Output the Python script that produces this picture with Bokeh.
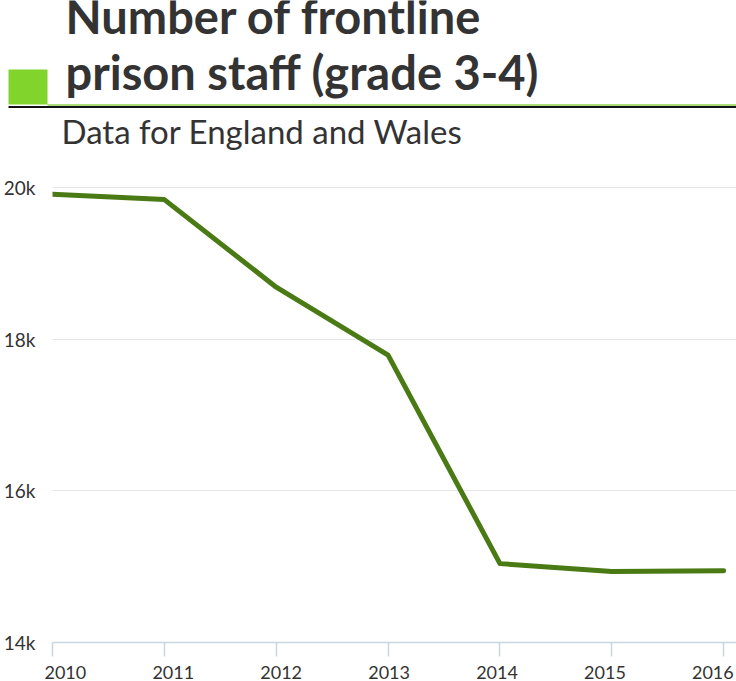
from bokeh.plotting import figure
from bokeh.models import Range1d, FixedTicker, LinearAxis
from bokeh.layouts import column
from bokeh.core.properties import value
from bokeh.embed import file_html
from bokeh.resources import INLINE

# ---- data ----
years = [2010, 2011, 2012, 2013, 2014, 2015, 2016]
staff = [19910, 19840, 18685, 17790, 15040, 14935, 14945]
y_ticks = [14000, 16000, 18000, 20000]
y_tick_labels = ["14k", "16k", "18k", "20k"]
title_lines = ["Number of frontline", "prison staff (grade 3-4)"]
subtitle = "Data for England and Wales"

FONT = value("Lato")
TEXT = "#333333"
LINE_GREEN = "#4a7a14"
LIME = "#80d42b"

W = 736
HEAD_H = 173
CHART_H = 681 - HEAD_H

# ---- header ----
head = figure(width=W, height=HEAD_H, output_backend="svg", toolbar_location=None,
              x_range=Range1d(0, W), y_range=Range1d(HEAD_H, 0),
              min_border=0, outline_line_color=None)
head.frame_align = False
head.axis.visible = False
head.grid.visible = False
head.text(x=[65, 65], y=[15, 71], text=title_lines, text_font=FONT,
          text_font_style="bold", text_font_size="47px", text_color=TEXT,
          text_baseline="alphabetic", text_align="left")
head.quad(left=[8], right=[47], top=[69], bottom=[104], color=LIME, line_color=None)
head.segment(x0=[47], y0=[104.5], x1=[W], y1=[104.5], line_color="#8fd14f", line_width=1.5)
head.segment(x0=[8], y0=[106.5], x1=[W], y1=[106.5], line_color="#111111", line_width=2)
head.text(x=[61], y=[130], text=[subtitle], text_font=FONT, text_font_size="33px",
          text_color=TEXT, text_baseline="alphabetic", text_align="left")

# ---- chart ----
p = figure(width=W, height=CHART_H, output_backend="svg", toolbar_location=None,
           x_range=Range1d(2010, 2016.1145), y_range=Range1d(14000, 20105),
           x_axis_location=None, y_axis_location="left",
           min_border_top=6, min_border_left=42, min_border_right=0, min_border_bottom=38,
           outline_line_color=None)
p.frame_align = False
p.extra_x_ranges = {"lab": Range1d(2009.881, 2016.219)}

p.line(years, staff, line_color=LINE_GREEN, line_width=5, line_cap="round", line_join="round")

p.xgrid.visible = False
p.ygrid.ticker = FixedTicker(ticks=y_ticks)
p.ygrid.grid_line_color = "#e6e6e6"
p.ygrid.grid_line_width = 1

ya = p.yaxis[0]
ya.ticker = FixedTicker(ticks=y_ticks)
ya.major_label_overrides = {t: l for t, l in zip(y_ticks, y_tick_labels)}
ya.axis_line_color = None
ya.major_tick_line_color = None
ya.minor_tick_line_color = None
ya.major_label_standoff = 11
ya.major_label_text_font = "Lato"
ya.major_label_text_font_size = "19px"
ya.major_label_text_color = TEXT

xa = LinearAxis(ticker=FixedTicker(ticks=years))
xa.axis_line_color = "#ccd6e0"
xa.axis_line_width = 1.5
xa.major_tick_line_color = "#ccd6e0"
xa.major_tick_line_width = 1.5
xa.major_tick_out = 14
xa.major_tick_in = 0
xa.minor_tick_line_color = None
xa.major_label_text_font_size = "1px"
xa.major_label_text_color = None
xa.major_label_standoff = 0
p.add_layout(xa, "below")

xl = LinearAxis(x_range_name="lab", ticker=FixedTicker(ticks=years))
xl.axis_line_color = None
xl.major_tick_line_color = None
xl.minor_tick_line_color = None
xl.major_tick_out = 0
xl.major_tick_in = 0
xl.major_label_standoff = 9
xl.major_label_text_font = "Lato"
xl.major_label_text_font_size = "18px"
xl.major_label_text_color = TEXT
p.add_layout(xl, "below")

layout = column(head, p, spacing=0)
open("out.html", "w").write(file_html(layout, INLINE))
